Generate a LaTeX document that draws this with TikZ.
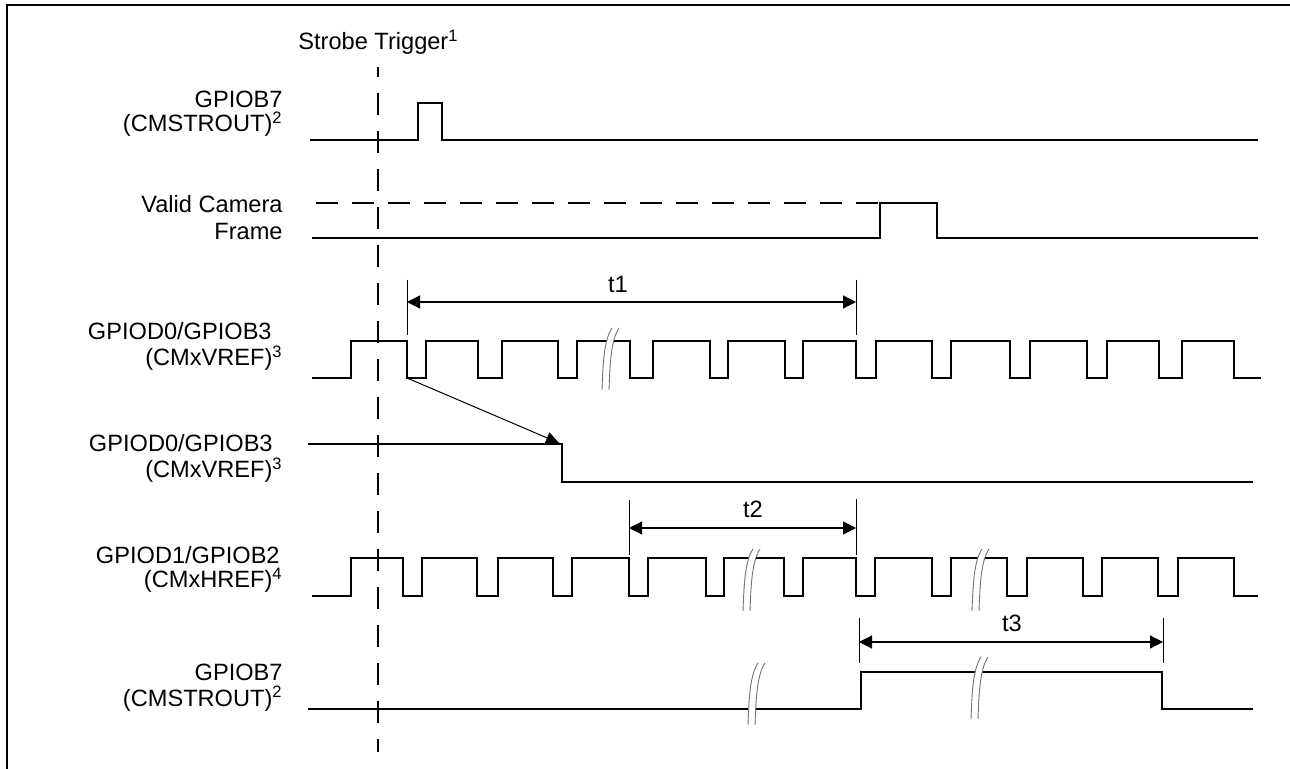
\documentclass[tikz,border=0pt]{standalone}
\usepackage{fontspec}
\setmainfont{Liberation Sans}
\usetikzlibrary{arrows.meta}
\begin{document}
\begin{tikzpicture}[x=0.5pt,y=-0.5pt,
  wave/.style={line width=0.7pt, line join=miter},
  tickline/.style={line width=0.5pt},
  dim/.style={line width=0.6pt, {Triangle[length=6.5pt,width=6.5pt]}-{Triangle[length=6.5pt,width=6.5pt]}},
  lbl/.style={font=\fontsize{11.8}{14}\selectfont, inner sep=0pt, anchor=base east},
  tlbl/.style={font=\fontsize{11.8}{14}\selectfont, inner sep=0pt, anchor=base},
  brk/.style={draw=black!55, line width=0.45pt},
  brkmark/.pic={
    \fill[white] (10,0) .. controls (2,12) and (1,35) .. (0,62) -- (7,62) .. controls (8,35) and (9,12) .. (17,0) -- cycle;
    \draw[brk] (10,0) .. controls (2,12) and (1,35) .. (0,62);
    \draw[brk] (17,0) .. controls (9,12) and (8,35) .. (7,62);
  }
]
\useasboundingbox (0,0) rectangle (1290,769);
% frame
\draw[line width=1pt] (7,769) -- (7,5) -- (1290,5);

% strobe trigger
\node[tlbl, anchor=base west] (strobe) at (298,50) {Strobe Trigger\textsuperscript{1}};
\draw[line width=0.6pt, dash pattern=on 11pt off 8pt, dash phase=6pt] (378,67) -- (378,752);

% labels
\node[lbl] (l1a) at (283,108) {GPIOB7};
\node[lbl] (l1b) at (283,132) {(CMSTROUT)\textsuperscript{2}};
\node[lbl] (l2a) at (283,213) {Valid Camera};
\node[lbl] (l2b) at (283,240) {Frame};
\node[lbl] (l3a) at (272,340) {GPIOD0/GPIOB3};
\node[lbl] (l3b) at (283,366) {(CMxVREF)\textsuperscript{3}};
\node[lbl] (l4a) at (273,452) {GPIOD0/GPIOB3};
\node[lbl] (l4b) at (283,478) {(CMxVREF)\textsuperscript{3}};
\node[lbl] (l5a) at (280,564) {GPIOD1/GPIOB2};
\node[lbl] (l5b) at (283,588) {(CMxHREF)\textsuperscript{4}};
\node[lbl] (l6a) at (283,680) {GPIOB7};
\node[lbl] (l6b) at (283,706) {(CMSTROUT)\textsuperscript{2}};

% row 1: GPIOB7
\draw[wave] (310,140) -| (418,103) -| (442,140) -- (1258,140);

% row 2: valid camera frame
\draw[wave, dash pattern=on 11pt off 7pt] (316,203) -- (878,203);
\draw[wave] (312,238) -| (880,203) -| (937,238) -- (1258,238);

% row 3: CMxVREF
\draw[wave] (312,378) -| (351,341) -| (407,378) -| (426,341) -| (478,378) -| (502,341) -| (558,378) -| (577,341) -| (630,378) -| (653,341) -| (710,378) -| (728,341) -| (785,378) -| (803,341) -| (856,378) -| (876,341) -| (932,378) -| (951,341) -| (1010,378) -| (1030,341) -| (1087,378) -| (1107,341) -| (1159,378) -| (1182,341) -| (1234,378) -- (1261,378);
\pic at (602,328) {brkmark};

% row 4: CMxVREF
\draw[wave] (308,444) -| (562,482) -- (1253,482);

% row 5: CMxHREF
\draw[wave] (312,596) -| (351,558) -| (403,596) -| (422,558) -| (477,596) -| (498,558) -| (553,596) -| (572,558) -| (629,596) -| (648,558) -| (706,596) -| (724,558) -| (784,596) -| (803,558) -| (856,596) -| (875,558) -| (932,596) -| (951,558) -| (1007,596) -| (1027,558) -| (1083,596) -| (1102,558) -| (1158,596) -| (1178,558) -| (1234,596) -- (1258,596);
\pic at (743,549) {brkmark};
\pic at (972,549) {brkmark};

% row 6: GPIOB7
\draw[wave] (308,709) -| (861,672) -| (1162,709) -- (1253,709);
\pic at (748,663) {brkmark};
\pic at (971,657) {brkmark};

% diagonal arrow
\coordinate (d1) at (407,378);
\coordinate (d2) at (559,443);
\draw[line width=0.5pt, -{Triangle[length=6.5pt,width=6pt]}] (d1) -- (d2);

% t1
\coordinate (t1a) at (407,302);
\coordinate (t1b) at (856,302);
\draw[tickline] (407,280) -- (407,335);
\draw[tickline] (856,280) -- (856,335);
\draw[dim] (t1a) -- (t1b);
\node[tlbl] (t1) at (618,293) {t1};

% t2
\coordinate (t2a) at (629,528);
\coordinate (t2b) at (856,528);
\draw[tickline] (629,500) -- (629,555);
\draw[tickline] (856,499) -- (856,555);
\draw[dim] (t2a) -- (t2b);
\node[tlbl] (t2) at (753,518) {t2};

% t3
\coordinate (t3a) at (859,642);
\coordinate (t3b) at (1163,642);
\draw[tickline] (859,618) -- (859,663);
\draw[tickline] (1163,618) -- (1163,663);
\draw[dim] (t3a) -- (t3b);
\node[tlbl] (t3) at (1012,632) {t3};
\end{tikzpicture}
\end{document}
